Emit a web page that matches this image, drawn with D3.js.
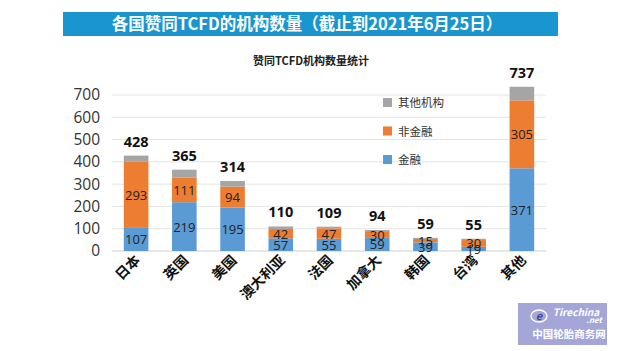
<!DOCTYPE html>
<html>
<head>
<meta charset="utf-8">
<script src="https://cdn.jsdelivr.net/npm/d3@7"></script>
<style>
  body { margin: 0; background: #fff; }
  svg { display: block; font-family: "Noto Sans CJK SC", "Noto Sans", sans-serif; }
</style>
</head>
<body>
<div id="chart"></div>
<script>
var countries = ["日本", "英国", "美国", "澳大利亚", "法国", "加拿大", "韩国", "台湾", "其他"];
var finance = [107, 219, 195, 57, 55, 59, 39, 19, 371];
var nonFinance = [293, 111, 94, 42, 47, 30, 15, 30, 305];
var others = [28, 35, 25, 11, 7, 5, 5, 6, 61];
var totals = [428, 365, 314, 110, 109, 94, 59, 55, 737];
var yTicks = [0, 100, 200, 300, 400, 500, 600, 700];
var seriesNames = ["金融", "非金融", "其他机构"];
var colors = ["#5b9bd5", "#ed7d31", "#a5a5a5"];

var width = 623, height = 351;
var svg = d3.select('#chart').append('svg')
  .attr('width', width)
  .attr('height', height);

// title banner
svg.append('rect')
  .attr('x', 63).attr('y', 12)
  .attr('width', 495).attr('height', 24)
  .attr('fill', '#1996d0');
svg.append('text')
  .attr('x', 307).attr('y', 30)
  .attr('text-anchor', 'middle')
  .attr('fill', '#fff')
  .attr('font-size', 16.5).attr('font-weight', 'bold')
  .text('各国赞同TCFD的机构数量（截止到2021年6月25日）');

svg.append('text')
  .attr('x', 311).attr('y', 65)
  .attr('text-anchor', 'middle')
  .attr('fill', '#222')
  .attr('font-size', 11).attr('font-weight', 'bold')
  .text('赞同TCFD机构数量统计');

var x = d3.scaleBand().domain(countries).range([112, 546]).paddingInner(0.49).paddingOuter(0.245);
var y = d3.scaleLinear().domain([0, 700]).range([251, 95]);

// gridlines
svg.append('g').selectAll('line')
  .data(yTicks).enter().append('line')
  .attr('x1', 112).attr('x2', 546)
  .attr('y1', function(d) { return y(d); })
  .attr('y2', function(d) { return y(d); })
  .attr('stroke', function(d) { return d === 0 ? '#d0d0d0' : '#e4e4e4'; })
  .attr('stroke-width', 1);

// y axis
var yAxis = svg.append('g')
  .attr('transform', 'translate(100,0)')
  .call(d3.axisLeft(y).tickValues(yTicks).tickSize(0).tickPadding(0));
yAxis.select('.domain').remove();
yAxis.selectAll('text')
  .attr('font-size', 15.5)
  .attr('fill', '#333')
  .attr('font-family', '"Open Sans", sans-serif');

var table = countries.map(function(c, i) {
  return { country: c, finance: finance[i], nonFinance: nonFinance[i], others: others[i], total: totals[i] };
});
var stack = d3.stack().keys(['finance', 'nonFinance', 'others']);
var layers = stack(table);

layers.forEach(function(layer, k) {
  svg.append('g').selectAll('rect')
    .data(layer).enter().append('rect')
    .attr('x', function(d) { return x(d.data.country); })
    .attr('width', x.bandwidth())
    .attr('y', function(d) { return y(d[1]); })
    .attr('height', function(d) { return y(d[0]) - y(d[1]); })
    .attr('fill', colors[k]);
});

// segment labels
[0, 1].forEach(function(k) {
  svg.append('g').selectAll('text')
    .data(layers[k]).enter().append('text')
    .attr('x', function(d) { return x(d.data.country) + x.bandwidth() / 2; })
    .attr('y', function(d) {
      var mid = (y(d[0]) + y(d[1])) / 2;
      return mid + 5;
    })
    .attr('text-anchor', 'middle')
    .attr('font-size', 13)
    .attr('font-family', '"Open Sans", sans-serif')
    .attr('fill', '#222')
    .text(function(d) { return d[1] - d[0]; });
});

// totals
svg.append('g').selectAll('text')
  .data(table).enter().append('text')
  .attr('x', function(d) { return x(d.country) + x.bandwidth() / 2; })
  .attr('y', function(d) { return y(d.total) - 9; })
  .attr('text-anchor', 'middle')
  .attr('font-size', 14.5)
  .attr('font-weight', 'bold')
  .attr('font-family', '"Open Sans", sans-serif')
  .attr('fill', '#111')
  .text(function(d) { return d.total; });

// x labels
svg.append('g').selectAll('text')
  .data(countries).enter().append('text')
  .attr('transform', function(d) {
    return 'translate(' + (x(d) + x.bandwidth() / 2 + 5) + ',' + 261 + ') rotate(-45)';
  })
  .attr('text-anchor', 'end')
  .attr('font-size', 14)
  .attr('font-weight', 'bold')
  .attr('fill', '#111')
  .text(function(d) { return d; });

// legend
var legend = svg.append('g');
[2, 1, 0].forEach(function(k, i) {
  legend.append('rect')
    .attr('x', 383).attr('y', 98 + i * 28.5)
    .attr('width', 9).attr('height', 9)
    .attr('fill', colors[k]);
  legend.append('text')
    .attr('x', 398).attr('y', 107 + i * 28.5)
    .attr('font-size', 11.5)
    .attr('fill', '#333')
    .text(seriesNames[k]);
});

// watermark
var wm = svg.append('g');
wm.append('rect')
  .attr('x', 518).attr('y', 303)
  .attr('width', 89).attr('height', 42)
  .attr('fill', '#a3a6d6');
wm.append('ellipse')
  .attr('cx', 539).attr('cy', 316)
  .attr('rx', 8).attr('ry', 6)
  .attr('fill', 'none').attr('stroke', '#fff').attr('stroke-width', 1.5);
wm.append('text')
  .attr('x', 539).attr('y', 320)
  .attr('text-anchor', 'middle')
  .attr('font-size', 11).attr('font-style', 'italic').attr('font-weight', 'bold')
  .attr('fill', '#3b4aa0')
  .text('e');
wm.append('text')
  .attr('x', 576).attr('y', 316)
  .attr('text-anchor', 'middle')
  .attr('font-size', 10).attr('font-style', 'italic').attr('font-weight', 'bold')
  .attr('fill', '#fff')
  .text('Tirechina');
wm.append('text')
  .attr('x', 602).attr('y', 323)
  .attr('text-anchor', 'end')
  .attr('font-size', 8).attr('font-style', 'italic').attr('font-weight', 'bold')
  .attr('fill', '#fff')
  .text('.net');
wm.append('text')
  .attr('x', 569).attr('y', 338)
  .attr('text-anchor', 'middle')
  .attr('font-size', 10.5).attr('font-weight', 'bold')
  .attr('fill', '#fff')
  .text('中国轮胎商务网');
</script>
</body>
</html>
